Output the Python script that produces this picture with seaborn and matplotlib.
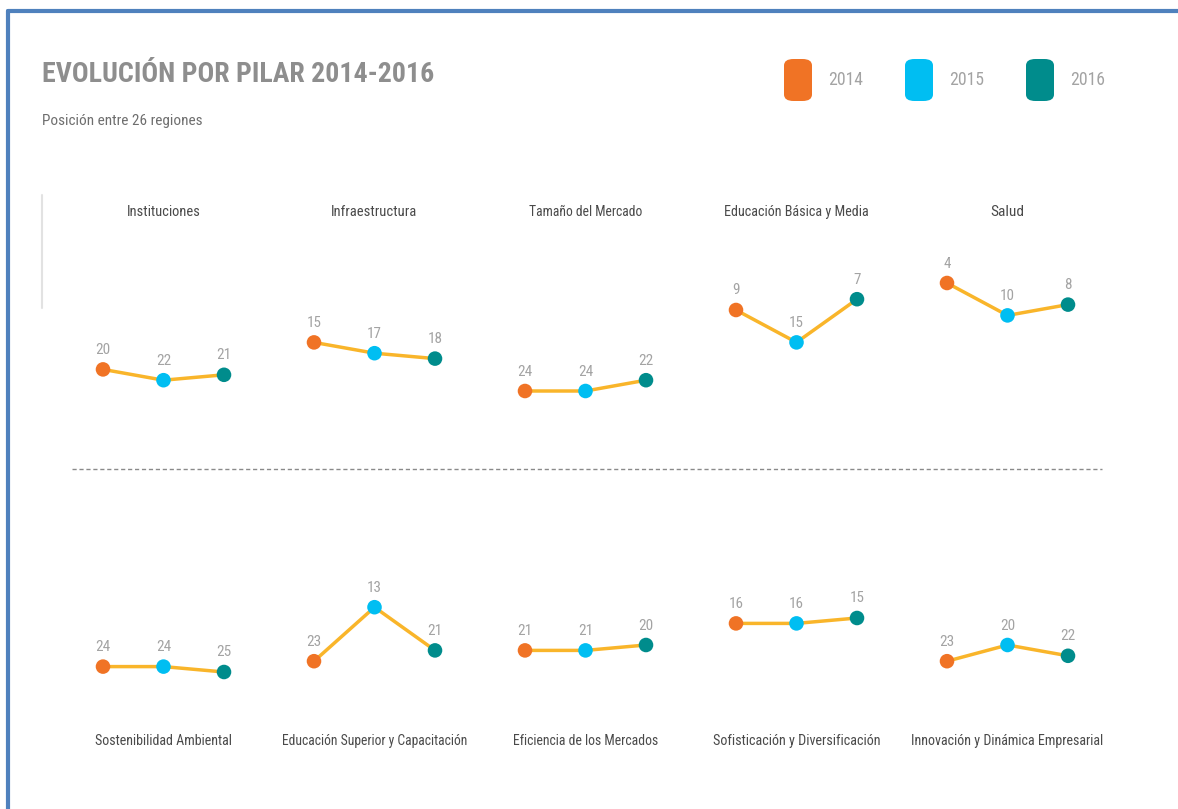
import matplotlib
matplotlib.use("Agg")
import matplotlib.pyplot as plt
from matplotlib import font_manager
from matplotlib.patches import FancyBboxPatch
from matplotlib.lines import Line2D
import seaborn as sns
import pandas as pd

# datos: posición entre 26 regiones
years = ["2014", "2015", "2016"]
top_pillars = ["Instituciones", "Infraestructura", "Tamaño del Mercado",
               "Educación Básica y Media", "Salud"]
top_ranks = [[20, 22, 21], [15, 17, 18], [24, 24, 22], [9, 15, 7], [4, 10, 8]]
bottom_pillars = ["Sostenibilidad Ambiental", "Educación Superior y Capacitación",
                  "Eficiencia de los Mercados", "Sofisticación y Diversificación",
                  "Innovación y Dinámica Empresarial"]
bottom_ranks = [[24, 24, 25], [23, 13, 21], [21, 21, 20], [16, 16, 15], [23, 20, 22]]

year_colors = {"2014": "#F07325", "2015": "#00BEF2", "2016": "#008C8C"}
line_color = "#F9B52A"
label_grey = "#A3A3A3"
title_grey = "#8E8E8E"
text_dark = "#4A4A4A"

sns.set_style("white")
names = {f.name for f in font_manager.fontManager.ttflist}
family = "DejaVu Sans"
for cand in ["Roboto Condensed", "Liberation Sans Narrow", "Open Sans Condensed", "Roboto", "Lato"]:
    if cand in names:
        family = cand
        break
plt.rcParams["font.family"] = [family, "DejaVu Sans"]

W, H = 1178, 809
fig = plt.figure(figsize=(W / 100, H / 100), dpi=100)
renderer = fig.canvas.get_renderer()


def fx(px):
    return px / W


def fy(py):
    return 1 - py / H


def fit(t, max_px):
    # achica el texto hasta el ancho que tiene en la imagen
    w = t.get_window_extent(renderer).width
    if w > max_px:
        t.set_fontsize(t.get_fontsize() * max_px / w)
    return t


rows = []
for r, (pillars, ranks) in enumerate([(top_pillars, top_ranks), (bottom_pillars, bottom_ranks)]):
    for c, (p, vals) in enumerate(zip(pillars, ranks)):
        for i, (y, v) in enumerate(zip(years, vals)):
            rows.append({"row": r, "col": c, "pilar": p, "year": y, "x": i, "rank": v})
df = pd.DataFrame(rows)

# pixel position of rank 0 for each row, and px per rank
row_y0 = [261.4, 537.0]
slope = 5.4
y_max = 30
col_x0 = 103
col_step = 211
pt_step = 60.5
title_widths = [[74, 86, 114, 145, 34], [138, 186, 146, 168, 193]]

for (r, c), d in df.groupby(["row", "col"]):
    left = col_x0 + col_step * c - pt_step / 2
    width = pt_step * 3
    top = row_y0[r]
    height = slope * y_max
    ax = fig.add_axes([fx(left), fy(top + height), width / W, height / H])
    sns.lineplot(data=d, x="x", y="rank", color=line_color, linewidth=2.5, ax=ax,
                 zorder=1, legend=False)
    sns.scatterplot(data=d, x="x", y="rank", hue="year", palette=year_colors, s=110,
                    edgecolor="none", ax=ax, zorder=2, legend=False)
    for _, row in d.iterrows():
        t = ax.annotate(str(row["rank"]), (row["x"], row["rank"]), xytext=(0, 9),
                        textcoords="offset points", ha="center", va="bottom",
                        fontsize=12.5, color=label_grey)
        fit(t, 7.5 * len(str(row["rank"])))
    ax.set_xlim(-0.5, 2.5)
    ax.set_ylim(y_max, 0)
    ax.axis("off")
    ax.patch.set_alpha(0)
    tx = col_x0 + col_step * c + pt_step
    ty = 212 if r == 0 else 741
    t = fig.text(fx(tx), fy(ty), d["pilar"].iloc[0], ha="center", va="center",
                 fontsize=11.5, color=text_dark)
    fit(t, title_widths[r][c])

# título y subtítulo
t = fig.text(fx(42), fy(75), "EVOLUCIÓN POR PILAR 2014-2016", ha="left", va="center",
             fontsize=27, fontweight="bold", color=title_grey)
fit(t, 392)
t = fig.text(fx(42), fy(121), "Posición entre 26 regiones", ha="left", va="center",
             fontsize=11.5, color="#6E6E6E")
fit(t, 161)

# leyenda
for i, y in enumerate(years):
    x0 = 784 + 121 * i
    box = FancyBboxPatch((fx(x0), fy(101)), 28 / W, 42 / H,
                         boxstyle="round,pad=0,rounding_size=0.008",
                         transform=fig.transFigure, facecolor=year_colors[y],
                         edgecolor="none")
    fig.patches.append(box)
    t = fig.text(fx(x0 + 44), fy(80), y, ha="left", va="center", fontsize=14,
                 color=label_grey)
    fit(t, 35)

# separador y marco
fig.add_artist(Line2D([fx(72), fx(1102)], [fy(469), fy(469)], transform=fig.transFigure,
                      color="#8A8A8A", linewidth=1, linestyle=(0, (3, 2))))
fig.add_artist(Line2D([fx(42), fx(42)], [fy(195), fy(308)], transform=fig.transFigure,
                      color="#E2E2E2", linewidth=1.5))
fig.add_artist(Line2D([fx(8), fx(8)], [fy(11), 0], transform=fig.transFigure,
                      color="#4F81BD", linewidth=3))
fig.add_artist(Line2D([fx(8), 1], [fy(11), fy(11)], transform=fig.transFigure,
                      color="#4F81BD", linewidth=3))

fig.savefig("out.png", dpi=100, facecolor="white")
